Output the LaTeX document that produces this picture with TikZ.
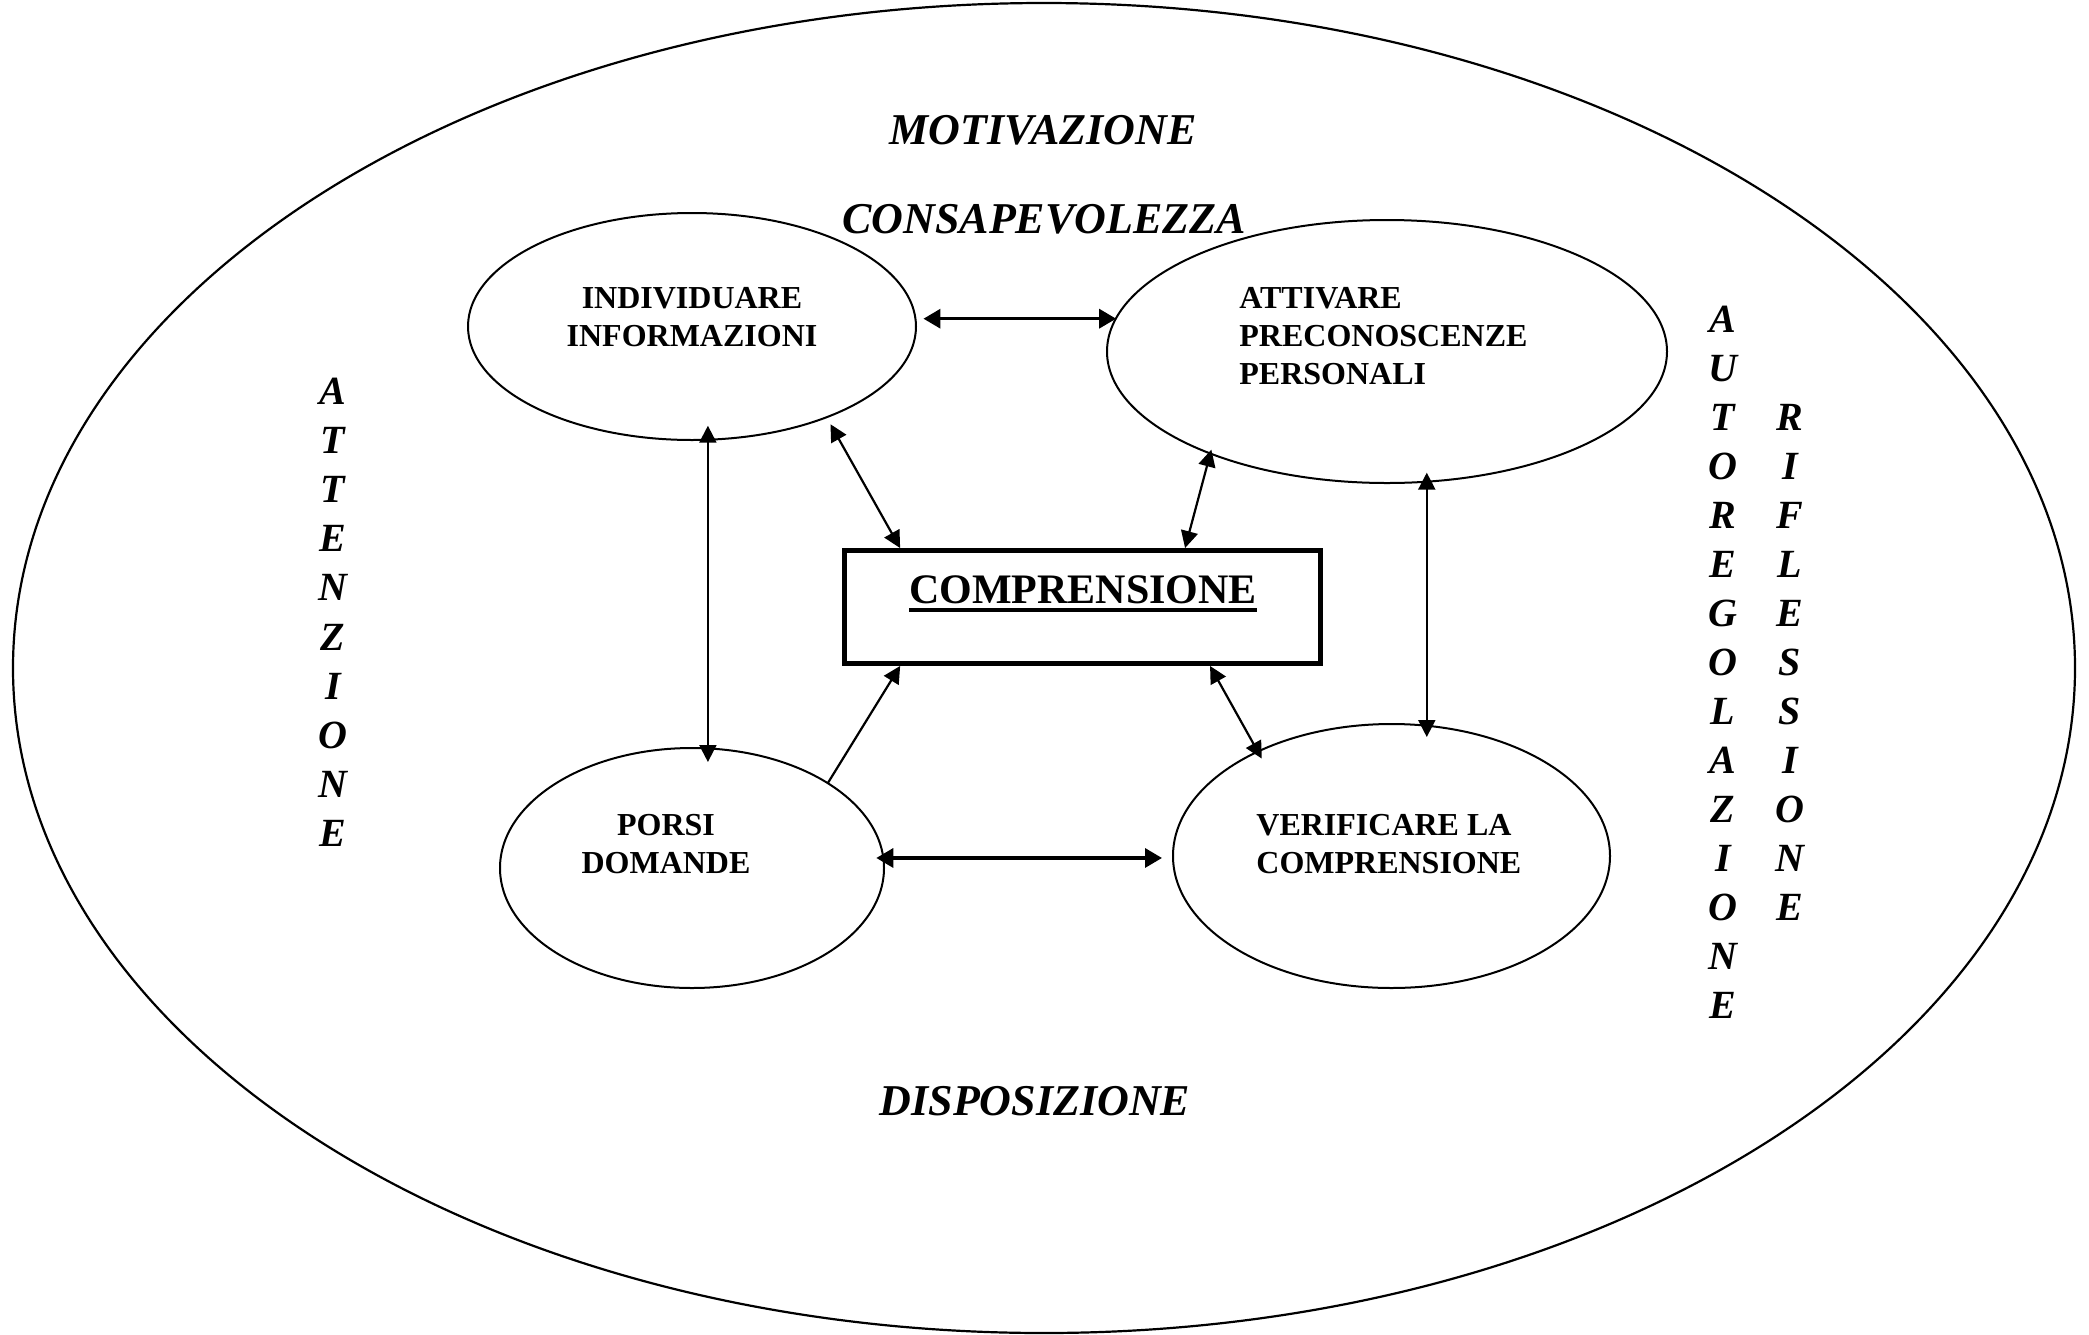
\documentclass[tikz,border=0pt]{standalone}
\usepackage{fontspec}
\setmainfont{Liberation Serif}
\usetikzlibrary{arrows.meta,shapes.geometric}
\newcommand{\mythickul}[1]{\setbox0=\hbox{#1}\rlap{\raisebox{-4.5pt}{\rule{\wd0}{1.8pt}}}\box0}
\tikzset{
  tipA/.tip={Triangle[length=8.5pt,width=8.5pt]},
  tipB/.tip={Triangle[length=8.5pt,width=9.5pt]},
  ell/.style={draw, ellipse, line width=1pt, inner sep=0pt, outer sep=0pt},
  lbl/.style={font=\fontsize{16}{19}\selectfont\bfseries, inner sep=0pt},
  big/.style={font=\fontsize{22}{26}\selectfont\bfseries\itshape, inner sep=0pt, anchor=base},
  vl/.style={font=\fontsize{20}{24}\selectfont\bfseries\itshape, inner sep=0pt, anchor=base},
  arr/.style={tipA-tipA, line width=1.1pt},
  arrh/.style={tipB-tipB, line width=1.7pt},
  arrone/.style={-tipA, line width=1.1pt}
}
\begin{document}
\begin{tikzpicture}[x=0.5pt,y=-0.5pt]
\fill[white] (0,0) rectangle (2089,1334);
\useasboundingbox (0,0) rectangle (2089,1334);

% outer ellipse
\node[draw, ellipse, line width=1.1pt, inner sep=0pt, outer sep=0pt,
      minimum width=1031pt, minimum height=665pt] (outer) at (1044,668) {};

% four ellipses
\node[ell, minimum width=224pt, minimum height=113.5pt] (ind) at (692,326.5) {};
\node[ell, minimum width=280pt, minimum height=131.5pt] (att) at (1387,351.5) {};
\node[ell, minimum width=192pt, minimum height=120pt] (por) at (692,868) {};
\node[ell, minimum width=218.5pt, minimum height=132pt] (ver) at (1391.5,856) {};

% central box
\node[draw, line width=2.35pt, inner sep=0pt, minimum width=238pt, minimum height=56.6pt] (comp) at (1082.5,607) {};
\node[font=\fontsize{21}{24}\selectfont\bfseries, inner sep=0pt, anchor=base] (compt) at (1083,603) {\mythickul{COMPRENSIONE}};

% ellipse texts
\node[lbl, align=center] (indt) at (692,316.7) {INDIVIDUARE\\INFORMAZIONI};
\node[lbl, align=left, anchor=west] (attt) at (1239,335.7) {ATTIVARE\\PRECONOSCENZE\\PERSONALI};
\node[lbl, align=center] (port) at (666,843.7) {PORSI\\DOMANDE};
\node[lbl, align=left, anchor=west] (vert) at (1256,843.7) {VERIFICARE LA\\COMPRENSIONE};

% big labels
\node[big] (mot) at (1043,144) {MOTIVAZIONE};
\node[big] (con) at (1044,233) {CONSAPEVOLEZZA};
\node[big] (dis) at (1035,1115) {DISPOSIZIONE};

% vertical words
\foreach \c [count=\i from 0] in {A,T,T,E,N,Z,I,O,N,E}
  \node[vl] (atz\i) at (333,{404+\i*49.2}) {\c};
\foreach \c [count=\i from 0] in {A,U,T,O,R,E,G,O,L,A,Z,I,O,N,E}
  \node[vl] (aut\i) at (1723,{332+\i*49}) {\c};
\foreach \c [count=\i from 0] in {R,I,F,L,E,S,S,I,O,N,E}
  \node[vl] (rif\i) at (1790,{430+\i*49}) {\c};

% connectors
\draw[arrh, shorten <=4pt] (ind.2) -- (ind.2 -| att.173);
\draw[arr, shorten <=-7pt, shorten >=-7pt] (ind.-82) -- (ind.-82 |- por.north);
\draw[arr, shorten <=4pt] (ind.-34) -- ([xshift=29pt]comp.north west);
\draw[arr, shorten <=-2pt] (att.210) -- ([xshift=-68.9pt]comp.north east);
\draw[arr, shorten <=-4.5pt, shorten >=-6.5pt] (att.-73) -- (att.-73 |- ver.north);
\draw[arrone] (por.32) -- ([xshift=29pt]comp.south west);
\draw[arr, shorten >=-4pt] ([xshift=-56.4pt]comp.south east) -- (ver.142);
\draw[arrh, shorten <=-3.5pt, shorten >=5.5pt] (por.3) -- (por.3 -| ver.west);
\end{tikzpicture}
\end{document}
